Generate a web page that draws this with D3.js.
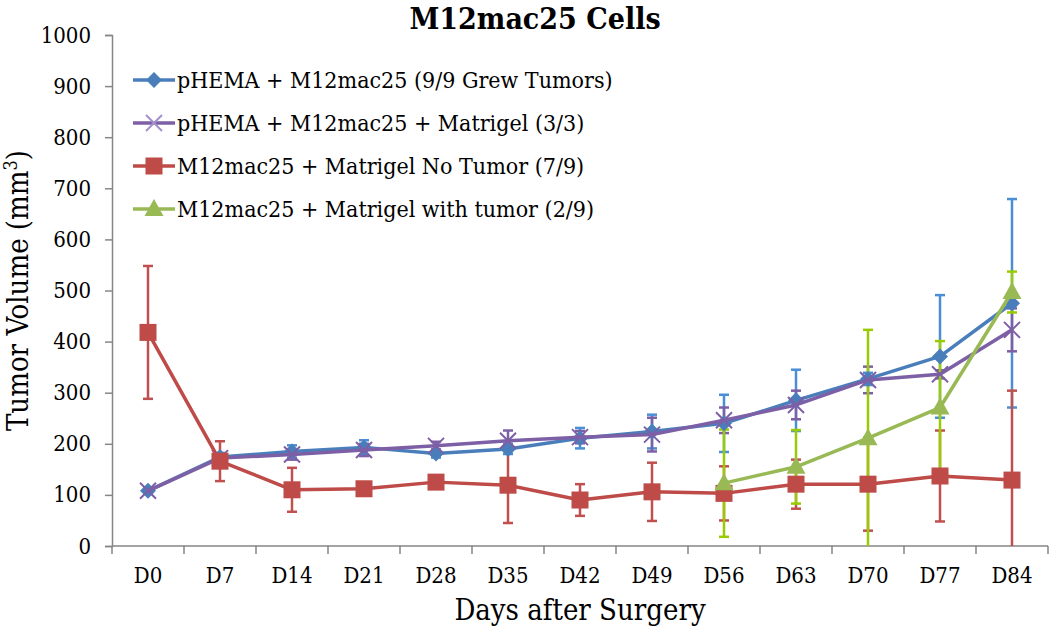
<!DOCTYPE html>
<html>
<head>
<meta charset="utf-8">
<script src="https://cdn.jsdelivr.net/npm/d3@7"></script>
<style>
    body { margin: 0; background: #fff; }
    svg { display: block; }
</style>
</head>
<body>
<svg id="chart" width="1050" height="636"></svg>
<script>
// Chart data
const days = ['D0', 'D7', 'D14', 'D21', 'D28', 'D35', 'D42', 'D49', 'D56', 'D63', 'D70', 'D77', 'D84'];
const yTicks = [0, 100, 200, 300, 400, 500, 600, 700, 800, 900, 1000];

const pHemaValues = [108, 174, 185, 193, 181, 190, 211, 224, 240, 285, 327, 371, 475];
const pHemaErrors = [5, 8, 12, 14, 8, 10, 20, 33, 56, 60, 12, 120, 204];

const pHemaMatValues = [108, 172, 179, 188, 196, 206, 213, 218, 246, 276, 325, 336, 423];
const pHemaMatErrors = [5, 8, 10, 12, 8, 20, 12, 33, 25, 28, 26, 8, 42];

const noTumorValues = [418, 166, 110, 112, 125, 119, 90, 106, 103, 121, 121, 137, 129];
const noTumorErrors = [130, 39, 43, 12, 12, 74, 31, 57, 53, 48, 91, 89, 175];

const withTumorValues = [null, null, null, null, null, null, null, null, 123, 155, 211, 271, 497];
const withTumorErrors = [null, null, null, null, null, null, null, null, 105, 72, 212, 130, 40];

const series = [
    { label: 'pHEMA + M12mac25 (9/9 Grew Tumors)', values: pHemaValues, errors: pHemaErrors,
      color: '#4A7EBB', errColor: '#4A8FD6', marker: 'diamond' },
    { label: 'pHEMA + M12mac25 + Matrigel (3/3)', values: pHemaMatValues, errors: pHemaMatErrors,
      color: '#7D5FA6', errColor: '#7D5FA6', marker: 'cross' },
    { label: 'M12mac25 + Matrigel No Tumor (7/9)', values: noTumorValues, errors: noTumorErrors,
      color: '#BE4B48', errColor: '#C0504D', marker: 'square' },
    { label: 'M12mac25 + Matrigel with tumor (2/9)', values: withTumorValues, errors: withTumorErrors,
      color: '#98B954', errColor: '#99CC00', marker: 'triangle' }
];

// Liberation Serif is not available here, so use the condensed DejaVu serif
const serif = "'DejaVu Serif Condensed', 'DejaVu Serif', serif";
const svg = d3.select('#chart');
const margin = { left: 112, right: 2, top: 35, bottom: 90 };
const width = 1050 - margin.left - margin.right;
const height = 636 - margin.top - margin.bottom;

const x = d3.scaleBand().domain(days).range([margin.left, margin.left + width]);
const y = d3.scaleLinear().domain([0, 1000]).range([margin.top + height, margin.top]);
const axisColor = '#868686';

// Title
svg.append('text')
    .attr('x', 535)
    .attr('y', 29)
    .attr('text-anchor', 'middle')
    .style('font-family', serif)
    .style('font-size', '30px')
    .style('font-weight', 'bold')
    .text('M12mac25 Cells');

// Y axis
const yAxis = svg.append('g')
    .attr('transform', `translate(${margin.left}, 0)`)
    .call(d3.axisLeft(y).tickValues(yTicks).tickFormat(d3.format('d')).tickSize(7).tickPadding(14));
yAxis.select('.domain').attr('stroke', axisColor).attr('stroke-width', 1.5);
yAxis.selectAll('.tick line').attr('stroke', axisColor).attr('stroke-width', 1.5);
yAxis.selectAll('.tick text')
    .style('font-family', serif)
    .style('font-size', '22px')
    .attr('fill', '#000');

// X axis: ticks sit between categories like Excel
const xAxis = svg.append('g')
    .attr('transform', `translate(0, ${margin.top + height})`);
xAxis.append('line')
    .attr('x1', margin.left).attr('x2', margin.left + width)
    .attr('stroke', axisColor).attr('stroke-width', 1.5);
xAxis.selectAll('.xtick')
    .data(days.concat(['end']))
    .enter()
    .append('line')
    .attr('x1', (d, i) => margin.left + i * x.bandwidth())
    .attr('x2', (d, i) => margin.left + i * x.bandwidth())
    .attr('y1', 0).attr('y2', 8)
    .attr('stroke', axisColor).attr('stroke-width', 1.5);
xAxis.selectAll('.xlabel')
    .data(days)
    .enter()
    .append('text')
    .attr('x', d => x(d) + x.bandwidth() / 2)
    .attr('y', 37)
    .attr('text-anchor', 'middle')
    .style('font-family', serif)
    .style('font-size', '22px')
    .text(d => d);

// Axis titles
svg.append('text')
    .attr('x', margin.left + width / 2)
    .attr('y', 620)
    .attr('text-anchor', 'middle')
    .style('font-family', serif)
    .style('font-size', '29px')
    .text('Days after Surgery');

const yTitle = svg.append('text')
    .attr('transform', `translate(28, ${margin.top + height / 2}) rotate(-90)`)
    .attr('text-anchor', 'middle')
    .style('font-family', serif)
    .style('font-size', '29px');
yTitle.append('tspan').text('Tumor Volume (mm');
yTitle.append('tspan').attr('dy', -11).style('font-size', '18px').text('3');
yTitle.append('tspan').attr('dy', 11).text(')');

const cx = d => x(d) + x.bandwidth() / 2;

function drawMarker(g, type, color) {
    switch (type) {
        case 'diamond':
            g.append('path').attr('d', 'M0,-8L8,0L0,8L-8,0Z').attr('fill', color);
            break;
        case 'cross':
            g.append('path').attr('d', 'M-8,-8L8,8M-8,8L8,-8')
                .attr('stroke', color).attr('stroke-width', 2).attr('fill', 'none');
            break;
        case 'square':
            g.append('rect').attr('x', -8.5).attr('y', -8.5).attr('width', 17).attr('height', 17)
                .attr('fill', color);
            break;
        case 'triangle':
        default:
            g.append('path').attr('d', 'M0,-10L9.5,7L-9.5,7Z').attr('fill', color);
            break;
    }
}

// Error bars (drawn below the lines)
series.forEach(s => {
    const pts = days.map((d, i) => ({ day: d, v: s.values[i], e: s.errors[i] }))
        .filter(p => p.v !== null);
    const eg = svg.append('g').attr('class', 'error-bars');
    pts.forEach(p => {
        const hi = y(Math.min(1000, p.v + p.e));
        const lo = y(Math.max(0, p.v - p.e));
        const px = cx(p.day);
        eg.append('line').attr('x1', px).attr('x2', px).attr('y1', hi).attr('y2', lo)
            .attr('stroke', s.errColor).attr('stroke-width', 2.5);
        [p.v + p.e, p.v - p.e].forEach(v => {
            if (v < 0 || v > 1000) return;
            eg.append('line').attr('x1', px - 5).attr('x2', px + 5)
                .attr('y1', y(v)).attr('y2', y(v))
                .attr('stroke', s.errColor).attr('stroke-width', 2.5);
        });
    });
});

// Lines and markers
const line = d3.line()
    .defined(d => d.v !== null)
    .x(d => cx(d.day))
    .y(d => y(d.v));

series.forEach(s => {
    const pts = days.map((d, i) => ({ day: d, v: s.values[i] }));
    svg.append('path')
        .datum(pts)
        .attr('d', line)
        .attr('fill', 'none')
        .attr('stroke', s.color)
        .attr('stroke-width', 3.5)
        .attr('stroke-linejoin', 'round');
    pts.filter(p => p.v !== null).forEach(p => {
        const g = svg.append('g').attr('transform', `translate(${cx(p.day)}, ${y(p.v)})`);
        drawMarker(g, s.marker, s.color);
    });
});

// Legend
const legend = svg.append('g').attr('class', 'legend').attr('transform', 'translate(133, 80)');
const legendItems = legend.selectAll('.legend-item')
    .data(series)
    .enter()
    .append('g')
    .attr('class', 'legend-item')
    .attr('transform', (d, i) => `translate(0, ${i * 43})`);

legendItems.append('line')
    .attr('x1', 0).attr('x2', 42)
    .attr('stroke', d => d.color)
    .attr('stroke-width', 3.5);
legendItems.each(function(d) {
    const g = d3.select(this).append('g').attr('transform', 'translate(21, 0)');
    drawMarker(g, d.marker, d.marker === 'cross' ? '#A58FCB' : d.color);
});
legendItems.append('text')
    .attr('x', 44)
    .attr('y', 0)
    .attr('dy', '0.35em')
    .style('font-family', serif)
    .style('font-size', '23px')
    .text(d => d.label);
</script>
</body>
</html>
